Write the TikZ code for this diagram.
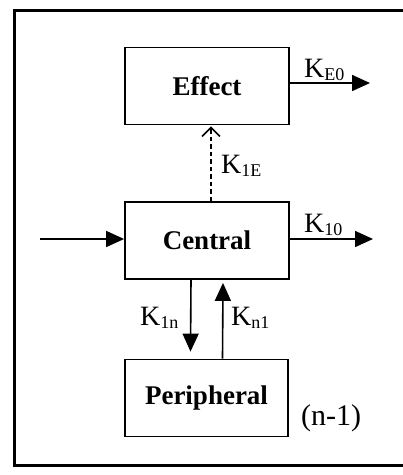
\documentclass[tikz,border=0pt]{standalone}
\usepackage{fontspec}
\setmainfont{Liberation Serif}
\usetikzlibrary{arrows.meta}
\newcommand{\Ksub}[1]{K\raisebox{-3pt}{\fontsize{18}{18}\selectfont #1}}
\tikzset{
  box/.style={draw, line width=1.8pt, minimum width=164pt, minimum height=77pt, inner sep=0pt,
    font=\fontsize{27}{30}\selectfont\bfseries},
  flow/.style={line width=1.6pt, -{Triangle[length=18pt,width=16pt]}},
  lbl/.style={font=\fontsize{28}{30}\selectfont, inner sep=0pt, anchor=base west},
  dflow/.style={line width=1.5pt, dash pattern=on 4.5pt off 3pt, -{Straight Barb[length=9pt,width=18pt,line width=1.5pt]}}
}
\begin{document}
\begin{tikzpicture}[x=1pt,y=-1pt]
\useasboundingbox (0,0) rectangle (403,475);
\clip (0,0) rectangle (403,475);
\draw[line width=3pt] (14,10) rectangle (430,465);
\node[box] (effect) at (207,86) {Effect};
\node[box] (central) at (207,240.5) {Central};
\node[box, minimum width=163pt] (periph) at (206.5,398) {Peripheral};
\coordinate (in) at (40,239);
\coordinate (k10end) at (373,239);
\coordinate (ke0end) at (370,83);
\draw[flow] (in) -- (in -| central.west);
\draw[flow] (k10end -| central.east) -- (k10end);
\draw[flow] (ke0end -| effect.east) -- (ke0end);
\draw[dflow] ([xshift=4pt]central.north) -- ([xshift=4pt,yshift=-1pt]effect.south);
\draw[flow] ([xshift=-16pt]central.south) -- ([xshift=-16pt,yshift=7pt]periph.north);
\draw[flow] ([xshift=16pt]periph.north) -- ([xshift=16pt,yshift=-3pt]central.south);
\node[lbl] (lke0) at (304,77) {\Ksub{E0}};
\node[lbl] (lk10) at (304,232) {\Ksub{10}};
\node[lbl] (lk1e) at (221,173) {\Ksub{1E}};
\node[lbl] (lk1n) at (140,325) {\Ksub{1n}};
\node[lbl] (lkn1) at (231,325) {\Ksub{n1}};
\node[lbl, font=\fontsize{30}{32}\selectfont] (nm1) at (301,425) {(n-1)};
\end{tikzpicture}
\end{document}
